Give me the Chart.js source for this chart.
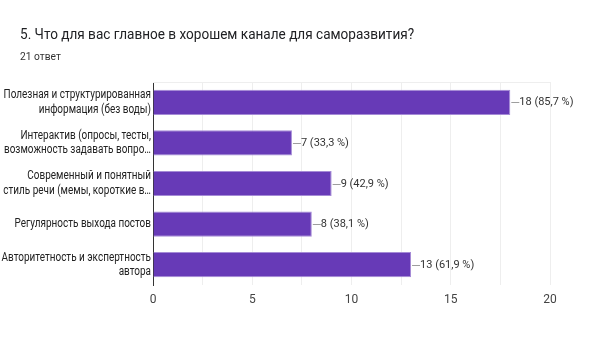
<!DOCTYPE html>
<html>
<head>
<meta charset="utf-8">
<script src="https://cdn.jsdelivr.net/npm/chart.js@4"></script>
<style>
  html, body { margin: 0; padding: 0; background: #fff; }
  #wrap { width: 612px; height: 348px; }
</style>
</head>
<body>
<div id="wrap"><canvas id="chart" width="612" height="348"></canvas></div>
<script>
const title = '5. Что для вас главное в хорошем канале для саморазвития?';
const subtitle = '21 ответ';

const categories = [
    ['Полезная и структурированная', 'информация (без воды)'],
    ['Интерактив (опросы, тесты,', 'возможность задавать вопро…'],
    ['Современный и понятный', 'стиль речи (мемы, короткие в…'],
    'Регулярность выхода постов',
    ['Авторитетность и экспертность', 'автора'],
];
const counts = [18, 7, 9, 8, 13];
const percents = ['85,7', '33,3', '42,9', '38,1', '61,9'];

// the source text is a bit narrower than Roboto
const LABEL_SQUEEZE = 0.83;

function squeezedText(ctx, text, x, y, k) {
    ctx.save();
    ctx.translate(x, 0);
    ctx.scale(k, 1);
    ctx.fillText(text, 0, y);
    ctx.restore();
}

// header text + top frame line
const header = {
    id: 'header',
    afterDraw(chart) {
        const ctx = chart.ctx;
        const a = chart.chartArea;
        ctx.save();
        ctx.strokeStyle = '#eeeeee';
        ctx.lineWidth = 1;
        ctx.beginPath();
        ctx.moveTo(a.left, a.top + 0.5);
        ctx.lineTo(a.right, a.top + 0.5);
        ctx.stroke();
        ctx.textBaseline = 'middle';
        ctx.textAlign = 'left';
        ctx.fillStyle = '#202124';
        ctx.font = '14px Roboto';
        squeezedText(ctx, title, 20, 35, 0.97);
        ctx.fillStyle = '#333';
        ctx.font = '11px Roboto';
        squeezedText(ctx, subtitle, 20, 57, 0.93);
        ctx.restore();
    }
};

// category labels, placed on the y scale's tick positions
const categoryLabels = {
    id: 'categoryLabels',
    afterDraw(chart) {
        const ctx = chart.ctx;
        const y = chart.scales.y;
        const lineH = 14.4;
        ctx.save();
        ctx.font = '12px Roboto';
        ctx.fillStyle = '#222';
        ctx.textBaseline = 'middle';
        ctx.textAlign = 'right';
        chart.data.labels.forEach((lab, i) => {
            const lines = Array.isArray(lab) ? lab : [lab];
            const cy = y.getPixelForTick(i);
            const top = cy - (lines.length - 1) * lineH / 2;
            lines.forEach((t, j) => {
                squeezedText(ctx, t, y.right - 2, top + j * lineH, LABEL_SQUEEZE);
            });
        });
        ctx.restore();
    }
};

// leader line + value label at bar end
const valueLabels = {
    id: 'valueLabels',
    afterDatasetsDraw(chart) {
        const ctx = chart.ctx;
        const meta = chart.getDatasetMeta(0);
        ctx.save();
        ctx.font = '11px Roboto';
        ctx.textBaseline = 'middle';
        ctx.textAlign = 'left';
        meta.data.forEach((bar, i) => {
            const x = bar.x;
            const y = Math.round(bar.y) + 0.5;
            ctx.strokeStyle = '#9e9e9e';
            ctx.lineWidth = 1;
            ctx.beginPath();
            ctx.moveTo(x + 1, y);
            ctx.lineTo(x + 9, y);
            ctx.stroke();
            ctx.fillStyle = '#333';
            ctx.fillText(counts[i] + ' (' + percents[i] + ' %)', x + 9, y);
        });
        ctx.restore();
    }
};

new Chart(document.getElementById('chart'), {
    type: 'bar',
    data: {
        labels: categories,
        datasets: [{
            data: counts,
            backgroundColor: '#673ab7',
            borderColor: '#a58bd6',
            borderWidth: 1,
            borderSkipped: 'left',
            barPercentage: 0.62,
            categoryPercentage: 1,
        }],
    },
    options: {
        indexAxis: 'y',
        responsive: false,
        animation: false,
        layout: { padding: { top: 82, right: 62, left: 0, bottom: 0 } },
        plugins: {
            legend: { display: false },
            tooltip: { enabled: false },
        },
        scales: {
            x: {
                min: 0,
                max: 20,
                ticks: {
                    stepSize: 2.5,
                    autoSkip: false,
                    maxRotation: 0,
                    padding: 8,
                    color: '#444',
                    font: { family: 'Roboto', size: 12 },
                    callback: (v) => (v % 5 === 0 ? v : ''),
                },
                grid: { color: '#eeeeee', drawTicks: false },
                border: { display: false },
                afterFit: (scale) => { scale.height = 63; },
            },
            y: {
                ticks: { display: false },
                grid: { display: false, drawTicks: false },
                border: { display: true, color: '#333', width: 1 },
                afterFit: (scale) => { scale.width = 153; },
            },
        },
    },
    plugins: [header, categoryLabels, valueLabels],
});
</script>
</body>
</html>
